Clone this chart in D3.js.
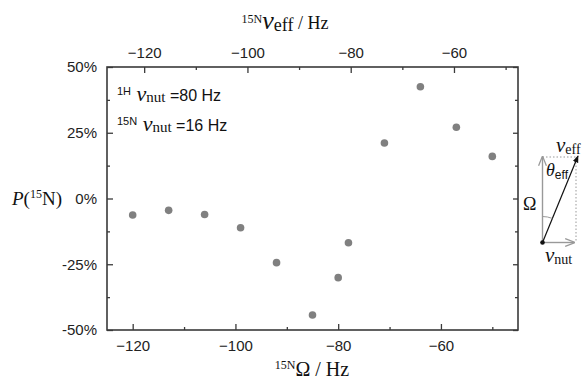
<!DOCTYPE html>
<html>
<head>
<meta charset="utf-8">
<script src="https://cdn.jsdelivr.net/npm/d3@7"></script>
<style>
  body { margin: 0; background: #fff; }
  .tick text { font-family: "Liberation Sans", Arial, sans-serif; font-size: 15px; fill: #222; }
  .serif { font-family: "Liberation Serif", "Times New Roman", serif; }
  .sans { font-family: "Liberation Sans", Arial, sans-serif; }
</style>
</head>
<body>
<div id="container"></div>
<script>
/* DATA */
const omega = [-120, -113, -106, -99, -92, -85, -80, -78, -71, -64, -57, -50];
const polarization = [-6.3, -4.5, -6.1, -11.1, -24.4, -44.3, -30.1, -16.8, 21.1, 42.5, 27.1, 16.0];
const bottomTicks = [-120, -100, -80, -60];
const bottomMinor = [-110, -90, -70, -50];
const topTicks = [-120, -100, -80, -60];
const topMinor = [-110, -90, -70, -50];
const yTicks = [-50, -25, 0, 25, 50];
const yMinor = [-37.5, -12.5, 12.5, 37.5];

/* CONSTANTS */
const width = 588, height = 381;
const mLeft = 107, mRight = 518, mTop = 67, mBottom = 330;
const axisColor = "#3a3a3a";

const svg = d3.select("#container").append("svg")
  .attr("width", width).attr("height", height);

/* SCALES */
const xScale = d3.scaleLinear().domain([-125, -45]).range([mLeft, mRight]);
const xTop = d3.scaleLinear().domain([-127.2, -47.6]).range([mLeft, mRight]);
const yScale = d3.scaleLinear().domain([-50, 50]).range([mBottom, mTop]);

function styleAxis(g) {
  g.select(".domain").remove();
  g.selectAll(".tick line").attr("stroke", axisColor).attr("stroke-width", 1.3);
}

// bottom axis
svg.append("g").attr("transform", `translate(0,${mBottom})`)
  .call(d3.axisBottom(xScale).tickValues(bottomTicks).tickSizeInner(-6).tickPadding(10).tickFormat(d3.format("d")))
  .call(styleAxis);
svg.append("g").attr("transform", `translate(0,${mBottom})`)
  .call(d3.axisBottom(xScale).tickValues(bottomMinor).tickSizeInner(-3).tickFormat(""))
  .call(styleAxis);

// top axis
svg.append("g").attr("transform", `translate(0,${mTop})`)
  .call(d3.axisTop(xTop).tickValues(topTicks).tickSizeInner(-6).tickPadding(9).tickFormat(d3.format("d")))
  .call(styleAxis);
svg.append("g").attr("transform", `translate(0,${mTop})`)
  .call(d3.axisTop(xTop).tickValues(topMinor).tickSizeInner(-3).tickFormat(""))
  .call(styleAxis);

// left axis
svg.append("g").attr("transform", `translate(${mLeft},0)`)
  .call(d3.axisLeft(yScale).tickValues(yTicks).tickSizeInner(-6).tickPadding(10).tickFormat(d => d + "%"))
  .call(styleAxis);
svg.append("g").attr("transform", `translate(${mLeft},0)`)
  .call(d3.axisLeft(yScale).tickValues(yMinor).tickSizeInner(-3).tickFormat(""))
  .call(styleAxis);

// right axis
svg.append("g").attr("transform", `translate(${mRight},0)`)
  .call(d3.axisRight(yScale).tickValues(yTicks).tickSizeInner(-5).tickFormat(""))
  .call(styleAxis);
svg.append("g").attr("transform", `translate(${mRight},0)`)
  .call(d3.axisRight(yScale).tickValues(yMinor).tickSizeInner(-3).tickFormat(""))
  .call(styleAxis);

// frame
svg.append("rect")
  .attr("x", mLeft).attr("y", mTop)
  .attr("width", mRight - mLeft).attr("height", mBottom - mTop)
  .attr("fill", "none").attr("stroke", axisColor).attr("stroke-width", 1.6);

// points
svg.selectAll("circle.pt")
  .data(omega.map((o, i) => ({o, p: polarization[i]})))
  .join("circle")
  .attr("class", "pt")
  .attr("cx", d => xScale(d.o))
  .attr("cy", d => yScale(d.p))
  .attr("r", 3.8)
  .attr("fill", "#808080");

/* AXIS TITLES */
// top
const tt = svg.append("text").attr("class", "serif").attr("x", 285).attr("y", 29)
  .attr("text-anchor", "middle").attr("fill", "#111");
tt.append("tspan").attr("font-size", 12).attr("dy", -6).text("15N");
tt.append("tspan").attr("font-size", 26).attr("font-style", "italic").attr("dy", 6).text("ν");
tt.append("tspan").attr("font-size", 18).attr("dy", 2).text("eff");
tt.append("tspan").attr("font-size", 18).attr("dy", -2).text(" / Hz");

// bottom
const bt = svg.append("text").attr("class", "serif").attr("x", 312).attr("y", 376)
  .attr("text-anchor", "middle").attr("fill", "#111");
bt.append("tspan").attr("font-size", 12).attr("dy", -7).text("15N");
bt.append("tspan").attr("font-size", 20).attr("dy", 7).text("Ω / Hz");

// left
const lt = svg.append("text").attr("class", "serif").attr("x", 12).attr("y", 205).attr("fill", "#111");
lt.append("tspan").attr("font-size", 19).attr("font-style", "italic").text("P");
lt.append("tspan").attr("font-size", 19).text("(");
lt.append("tspan").attr("font-size", 12).attr("dy", -7).text("15");
lt.append("tspan").attr("font-size", 19).attr("dy", 7).text("N)");

/* ANNOTATIONS */
function nutLabel(y, iso, val) {
  const t = svg.append("text").attr("x", 117).attr("y", y).attr("fill", "#111");
  t.append("tspan").attr("class", "sans").attr("font-size", 11).attr("dy", -6).text(iso);
  t.append("tspan").attr("class", "serif").attr("font-size", 22).attr("font-style", "italic").attr("dy", 6).text(" ν");
  t.append("tspan").attr("class", "serif").attr("font-size", 15).attr("dy", 1).text("nut");
  t.append("tspan").attr("class", "sans").attr("font-size", 16).attr("dy", -1).text(" =" + val + " Hz");
}
nutLabel(101, "1H", 80);
nutLabel(131, "15N", 16);

/* INSET VECTOR DIAGRAM */
const ox = 542.5, oy = 242.5, tx = 577, ty = 157;
const defs = svg.append("defs");
defs.append("marker").attr("id", "ag").attr("viewBox", "0 0 10 10")
  .attr("refX", 9).attr("refY", 5).attr("markerWidth", 7).attr("markerHeight", 7)
  .attr("orient", "auto")
  .append("path").attr("d", "M0,1 L10,5 L0,9").attr("fill", "none").attr("stroke", "#999").attr("stroke-width", 1.3);
defs.append("marker").attr("id", "ab").attr("viewBox", "0 0 10 10")
  .attr("refX", 9).attr("refY", 5).attr("markerWidth", 6).attr("markerHeight", 6)
  .attr("orient", "auto")
  .append("path").attr("d", "M0,1 L10,5 L0,9 Z").attr("fill", "#111");

// dotted guides
svg.append("path").attr("d", `M${ox},${ty} L${tx - 1},${ty} L${tx - 1},${oy}`)
  .attr("fill", "none").attr("stroke", "#999").attr("stroke-width", 1).attr("stroke-dasharray", "1.5,2");
// grey Omega arrow
svg.append("line").attr("x1", ox).attr("y1", oy).attr("x2", ox).attr("y2", ty)
  .attr("stroke", "#999").attr("stroke-width", 1.4).attr("marker-end", "url(#ag)");
// grey nut arrow
svg.append("line").attr("x1", ox).attr("y1", oy).attr("x2", 574).attr("y2", oy)
  .attr("stroke", "#999").attr("stroke-width", 1.4).attr("marker-end", "url(#ag)");
// black eff arrow
svg.append("line").attr("x1", ox).attr("y1", oy).attr("x2", tx + 1).attr("y2", ty - 1)
  .attr("stroke", "#111").attr("stroke-width", 1.2).attr("marker-end", "url(#ab)");
// angle arc
const ang = Math.atan2(tx - ox, oy - ty);
const r = 26;
svg.append("path")
  .attr("d", `M${ox},${oy - r} A${r},${r} 0 0 1 ${ox + r * Math.sin(ang)},${oy - r * Math.cos(ang)}`)
  .attr("fill", "none").attr("stroke", "#999").attr("stroke-width", 1);
svg.append("circle").attr("cx", ox).attr("cy", oy).attr("r", 2.3).attr("fill", "#111");

// inset labels
svg.append("text").attr("class", "serif").attr("x", 523).attr("y", 210)
  .attr("font-size", 18).attr("fill", "#111").text("Ω");
const th = svg.append("text").attr("x", 546).attr("y", 176).attr("fill", "#111");
th.append("tspan").attr("class", "serif").attr("font-style", "italic").attr("font-size", 18).text("θ");
th.append("tspan").attr("class", "sans").attr("font-size", 12).attr("dy", 3).text("eff");
const ve = svg.append("text").attr("x", 556).attr("y", 152).attr("fill", "#111");
ve.append("tspan").attr("class", "serif").attr("font-style", "italic").attr("font-size", 21).text("ν");
ve.append("tspan").attr("class", "serif").attr("font-size", 14).attr("dy", 2).text("eff");
const vn = svg.append("text").attr("x", 545).attr("y", 262).attr("fill", "#111");
vn.append("tspan").attr("class", "serif").attr("font-style", "italic").attr("font-size", 21).text("ν");
vn.append("tspan").attr("class", "serif").attr("font-size", 14).attr("dy", 2).text("nut");
</script>
</body>
</html>
